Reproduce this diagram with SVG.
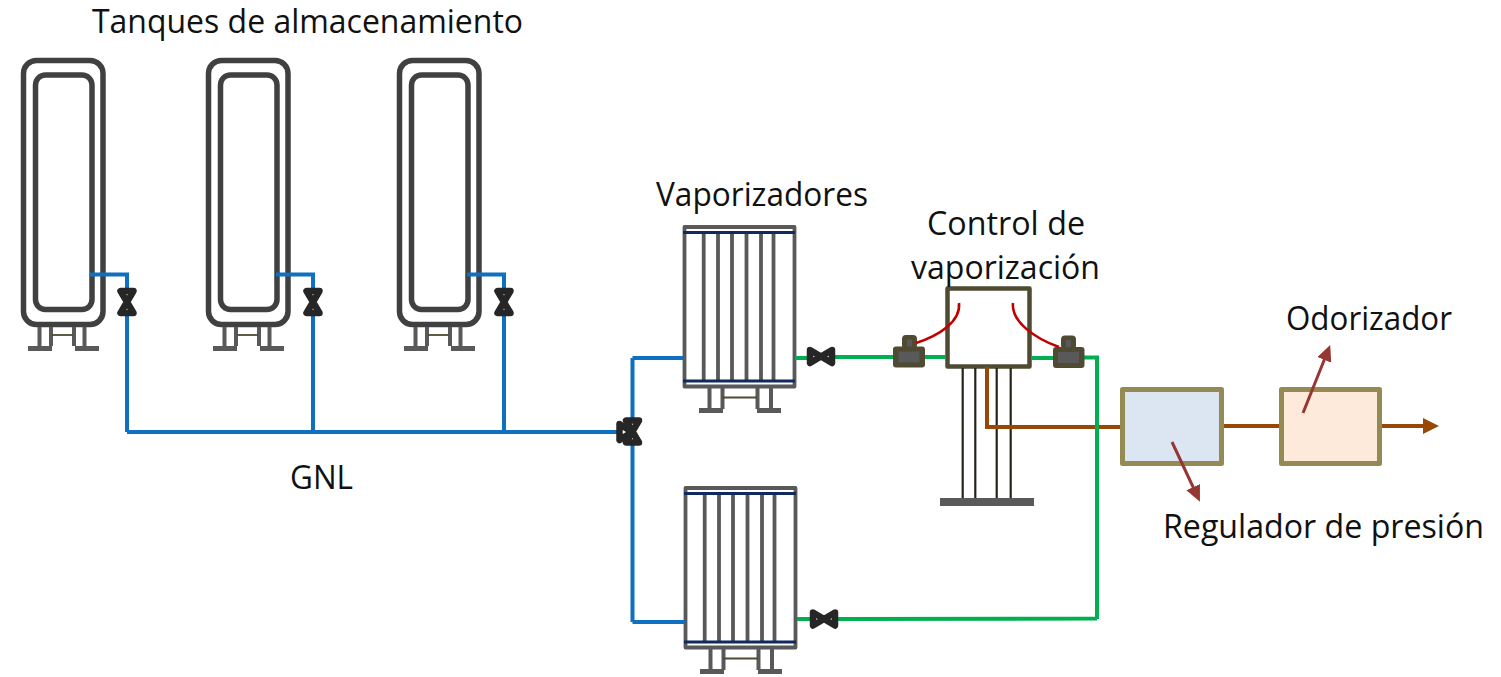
<svg xmlns="http://www.w3.org/2000/svg" xmlns:xlink="http://www.w3.org/1999/xlink" width="1501" height="677" viewBox="0 0 1501 677">
<style>
text{font-family:"Open Sans","Noto Sans","Liberation Sans",sans-serif;font-size:32px;fill:#111}
.tank{fill:none;stroke:#404040;stroke-width:5.5}
.leg{fill:none;stroke:#595959;stroke-width:4}
.foot{fill:#595959}
.link{fill:none;stroke:#4f4a32;stroke-width:1.8}
.vap{fill:none;stroke:#595959;stroke-width:3.8;stroke-linejoin:round}
.navy{fill:none;stroke:#10295f;stroke-width:3}
.valve{fill:#fff;stroke:#262626;stroke-width:6.5;stroke-linejoin:round}
.blue{fill:none;stroke:#0f6fc0;stroke-width:4}
.green{fill:none;stroke:#00b050;stroke-width:4}
.brown{fill:none;stroke:#974706;stroke-width:4}
.red{fill:none;stroke:#c00000;stroke-width:2.6}
.sense{fill:#4f4a32;stroke:#4f4a32;stroke-width:2;stroke-linejoin:round}
.pill{fill:#595959}
.stem{fill:none;stroke:#26241a;stroke-width:2.2}
.box{stroke:#948a54;stroke-width:5;stroke-linejoin:round}
.lead{fill:none;stroke:#953735;stroke-width:3}
</style>
<defs>
<g id="tankShape">
<rect class="tank" x="23.5" y="60.5" width="79.5" height="264" rx="13"/>
<rect class="tank" x="35.5" y="75" width="56.5" height="234.5" rx="10"/>
<path class="leg" d="M39.5 327V346M51 327V346M74 327V346M84.5 327V346"/>
<rect class="foot" x="28" y="346" width="24" height="5"/>
<rect class="foot" x="75" y="346" width="24" height="5"/>
<path class="link" d="M52 335H73"/>
</g>
<g id="vapShape">
<rect class="vap" x="684.5" y="227" width="110" height="159.5"/>
<path class="vap" d="M703.7 232V381M718 232V381M732 232V381M746.5 232V381M761 232V381M773.5 232V381"/>
<path class="navy" d="M683 232.500H795M683 381H795"/>
<path class="leg" d="M709.500 388V409M722.500 388V409M757.500 388V409M771 388V409"/>
<rect class="foot" x="699" y="408" width="24" height="5"/>
<rect class="foot" x="757" y="408" width="24" height="5"/>
<path class="link" d="M722 397.500H757"/>
</g>
<polygon id="valveH" class="valve" points="-11,-6.500 11,6.500 11,-6.500 -11,6.500"/>
<polygon id="valveV" class="valve" points="-6.500,-11 6.500,-11 -6.500,11 6.500,11"/>
<marker id="headBrown" markerUnits="userSpaceOnUse" markerWidth="16" markerHeight="16" refX="0" refY="8" orient="auto"><path d="M0 0L16 8L0 16Z" fill="#974706"/></marker>
<marker id="headRed" markerUnits="userSpaceOnUse" markerWidth="16" markerHeight="15" refX="2" refY="7.500" orient="auto"><path d="M0 0L16 7.500L0 15Z" fill="#953735"/></marker>
</defs>

<g id="tank-1"><use href="#tankShape"/></g>
<g id="tank-2"><use href="#tankShape" x="185"/></g>
<g id="tank-3"><use href="#tankShape" x="376"/></g>
<g id="vaporizer-1"><use href="#vapShape"/></g>
<g id="vaporizer-2"><use href="#vapShape" x="1" y="261"/></g>
<g id="control">
<rect x="947.500" y="288.500" width="82" height="78" fill="none" stroke="#4f4a32" stroke-width="4.500" stroke-linejoin="round"/>
<path class="stem" d="M962.700 368V498M975.300 368V498M996.700 368V498M1010.700 368V498"/>
<rect class="pill" x="940" y="498" width="94" height="8"/>
</g>

<g id="connectors">
<path class="blue" d="M90 274.500H127V432M276 274.500H313V432M467 274.500H504V432M127 432H632M632.500 358V622M632.500 358H684M632.500 622H685"/>
<path class="brown" d="M987 367V427H1121"/>
<path class="brown" d="M1223 426H1280"/>
<path class="brown" d="M1380 426H1423" marker-end="url(#headBrown)"/>
<path class="green" d="M795 358H835M835 357H893M925 357H946M1031 358H1053M1083 357.500H1097V619M797 619H835L1097 618.500"/>
</g>

<g id="valve-1"><use href="#valveV" x="127" y="302"/></g>
<g id="valve-2"><use href="#valveV" x="313" y="302"/></g>
<g id="valve-3"><use href="#valveV" x="504" y="302"/></g>
<g id="valve-main">
<polygon class="valve" points="619.500,424 632,432 619.500,440"/>
<use href="#valveV" x="632.500" y="431.500"/>
</g>
<g id="valve-4"><use href="#valveH" x="821" y="356.500"/></g>
<g id="valve-5"><use href="#valveH" x="824" y="619"/></g>

<g id="sensor-left">
<rect class="sense" x="903" y="336" width="13" height="12" rx="3"/>
<rect class="sense" x="894" y="347.500" width="30" height="19" rx="2"/>
<rect class="pill" x="907" y="339.500" width="5" height="7"/>
<rect class="pill" x="898.500" y="351.500" width="21" height="11"/>
</g>
<g id="sensor-right">
<rect class="sense" x="1062" y="336.500" width="13" height="12" rx="3"/>
<rect class="sense" x="1054" y="348" width="29.500" height="19" rx="2"/>
<rect class="pill" x="1066" y="340" width="5" height="7"/>
<rect class="pill" x="1058" y="352" width="21" height="11"/>
</g>
<g id="signals">
<path class="red" d="M959 303C961 322 938 336 916 343"/>
<path class="red" d="M1013 303C1011 322 1036 339 1059 347"/>
</g>
<g id="regulator"><rect class="box" x="1122.500" y="389.500" width="99" height="74" fill="#dce6f2"/></g>
<g id="odorizer"><rect class="box" x="1281.500" y="389.500" width="98" height="74" fill="#fdeada"/></g>
<g id="leaders">
<path class="lead" d="M1172 442L1194 489" marker-end="url(#headRed)"/>
<path class="lead" d="M1303 413L1325 358" marker-end="url(#headRed)"/>
</g>

<g id="labels">
<text x="92" y="33" textLength="431" lengthAdjust="spacingAndGlyphs">Tanques de almacenamiento</text>
<text x="656" y="206" textLength="212" lengthAdjust="spacingAndGlyphs">Vaporizadores</text>
<text x="927" y="235" textLength="158" lengthAdjust="spacingAndGlyphs">Control de</text>
<text x="911" y="279" textLength="189" lengthAdjust="spacingAndGlyphs">vaporización</text>
<text x="290" y="489" textLength="63" lengthAdjust="spacingAndGlyphs">GNL</text>
<text x="1286" y="330" textLength="166" lengthAdjust="spacingAndGlyphs">Odorizador</text>
<text x="1163" y="538" textLength="321" lengthAdjust="spacingAndGlyphs">Regulador de presión</text>
</g>
</svg>
